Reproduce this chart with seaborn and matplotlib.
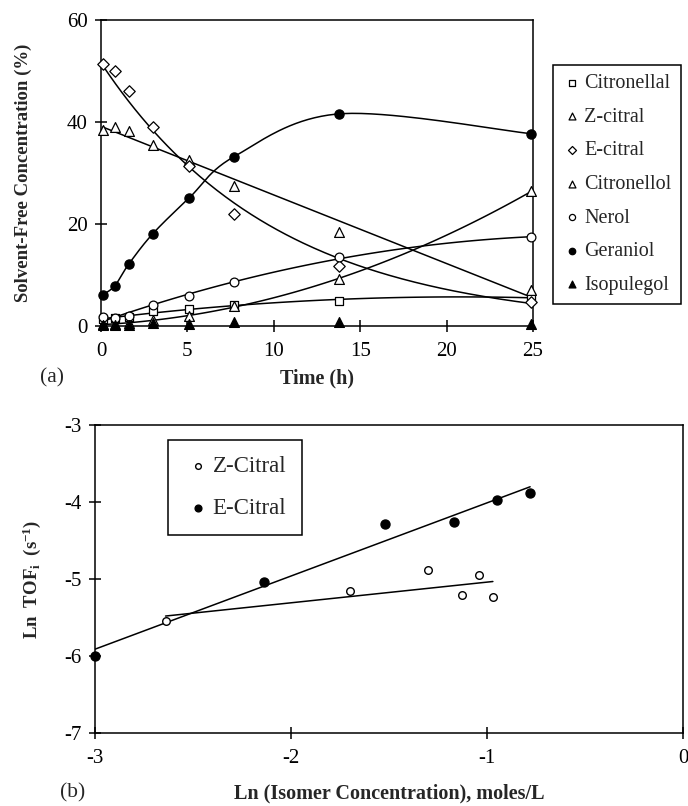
import numpy as np
import pandas as pd
import matplotlib
matplotlib.use("Agg")
import matplotlib.pyplot as plt
import seaborn as sns

# ---------------- data: (a) concentration vs time ----------------
time_h = [0.1, 0.8, 1.6, 3.0, 5.1, 7.7, 13.8, 24.9]
citronellal = [1.4, 1.5, 1.8, 3.0, 3.3, 4.2, 4.9, 5.6]
z_citral = [38.4, 39.0, 38.3, 35.4, 32.5, 27.4, 18.4, 7.1]
e_citral = [51.4, 50.0, 46.1, 39.0, 31.4, 22.0, 11.8, 4.8]
citronellol = [0.3, 0.4, 0.6, 1.2, 1.9, 3.9, 9.3, 26.4]
nerol = [1.8, 1.6, 2.0, 4.1, 5.9, 8.7, 13.6, 17.4]
geraniol = [6.1, 7.9, 12.1, 18.1, 25.1, 33.2, 41.6, 37.7]
isopulegol = [0.1, 0.1, 0.1, 0.6, 0.4, 0.8, 0.7, 0.3]

conc_ticks_x = [0, 5, 10, 15, 20, 25]
conc_ticks_y = [0, 20, 40, 60]

# ---------------- data: (b) ln TOF vs ln concentration ----------------
z_ln_conc = [-2.64, -1.70, -1.30, -1.13, -1.04, -0.97]
z_ln_tof = [-5.55, -5.16, -4.88, -5.21, -4.95, -5.24]
e_ln_conc = [-3.00, -2.14, -1.52, -1.17, -0.95, -0.78]
e_ln_tof = [-6.00, -5.04, -4.29, -4.26, -3.98, -3.88]

tof_ticks_x = [-3, -2, -1, 0]
tof_ticks_y = [-7, -6, -5, -4, -3]

sns.set_style("ticks")
plt.rcParams.update({
    "font.family": ["Liberation Serif", "DejaVu Serif"],
    "axes.unicode_minus": False,
    "mathtext.fontset": "custom",
    "mathtext.rm": "Liberation Serif",
    "mathtext.bf": "Liberation Serif:bold",
    "mathtext.it": "Liberation Serif:italic",
    "axes.edgecolor": "black",
    "axes.linewidth": 1.1,
})

W, H = 688, 806
fig = plt.figure(figsize=(W / 100, H / 100), dpi=100)


def px_axes(left, top, right, bottom):
    return fig.add_axes([left / W, 1 - bottom / H, (right - left) / W, (bottom - top) / H])


def style_axes(ax):
    for side in ["top", "right", "left", "bottom"]:
        ax.spines[side].set_visible(True)
        ax.spines[side].set_linewidth(1.1)
        ax.spines[side].set_color("black")
    ax.tick_params(axis="both", direction="inout", length=9, width=1.1,
                   labelsize=15, colors="black", top=False, right=False)
    ax.tick_params(axis="x", pad=7)
    ax.tick_params(axis="y", pad=5)
    ax.set_xlabel("")
    ax.set_ylabel("")


def smoothed_path(x, y, n=40):
    """Smoothed connecting line through every point (cubic Bezier segments
    with Catmull-Rom style control points)."""
    p = np.column_stack([x, y]).astype(float)
    p_ext = np.vstack([p[0], p, p[-1]])
    u = np.linspace(0, 1, n)[:, None]
    out = []
    for i in range(1, len(p_ext) - 2):
        p0, p1, p2, p3 = p_ext[i - 1], p_ext[i], p_ext[i + 1], p_ext[i + 2]
        c1 = p1 + (p2 - p0) / 6
        c2 = p2 - (p3 - p1) / 6
        seg = ((1 - u) ** 3) * p1 + 3 * ((1 - u) ** 2) * u * c1 \
            + 3 * (1 - u) * u ** 2 * c2 + u ** 3 * p2
        out.append(seg if i == 1 else seg[1:])
    out = np.vstack(out)
    return out[:, 0], out[:, 1]


# ---------------- panel (a) ----------------
ax1 = px_axes(101, 20, 533, 326)

names = ["Citronellal", "Z-citral", "E-citral", "Citronellol", "Nerol", "Geraniol", "Isopulegol"]
conc_df = pd.DataFrame({
    "time": time_h * len(names),
    "conc": citronellal + z_citral + e_citral + citronellol + nerol + geraniol + isopulegol,
    "compound": sum([[n] * len(time_h) for n in names], []),
})

# marker, face colour, size, line type ("exp", "smooth", polynomial order, or None)
conc_styles = {
    "Citronellal": ("s", "white", 34, 2),
    "Z-citral": ("^", "white", 50, 1),
    "E-citral": ("D", "white", 34, "exp"),
    "Citronellol": ("^", "white", 50, 2),
    "Nerol": ("o", "white", 40, 2),
    "Geraniol": ("o", "black", 44, "smooth"),
    "Isopulegol": ("^", "black", 50, None),
}

for name, (mk, fc, size, trend) in conc_styles.items():
    sub = conc_df[conc_df["compound"] == name]
    if trend == "exp":
        # exponential trend line: least squares on log(conc)
        b, ln_a = np.polyfit(sub["time"], np.log(sub["conc"]), 1)
        grid = np.linspace(sub["time"].min(), sub["time"].max(), 200)
        sns.lineplot(x=grid, y=np.exp(ln_a + b * grid), color="black", lw=1.1, ax=ax1)
    elif trend == "smooth":
        sx, sy = smoothed_path(sub["time"].to_numpy(), sub["conc"].to_numpy())
        sns.lineplot(x=sx, y=sy, sort=False, estimator=None, color="black", lw=1.1, ax=ax1)
    elif trend is not None:
        sns.regplot(data=sub, x="time", y="conc", order=trend, ci=None, scatter=False,
                    truncate=True, color="black", line_kws={"lw": 1.1}, ax=ax1)
    sns.scatterplot(data=sub, x="time", y="conc", marker=mk, s=size, color=fc,
                    edgecolor="black", linewidth=0.9, label=name, clip_on=False,
                    zorder=3, ax=ax1, legend=False)

ax1.set_xlim(0, 25)
ax1.set_ylim(0, 60)
ax1.set_xticks(conc_ticks_x)
ax1.set_yticks(conc_ticks_y)
style_axes(ax1)

handles, labels = ax1.get_legend_handles_labels()
leg1 = ax1.legend(handles, labels, loc="upper left",
                  bbox_to_anchor=(553 / W, 1 - 65 / H), bbox_transform=fig.transFigure,
                  fontsize=14.5, frameon=True, fancybox=False, edgecolor="black",
                  framealpha=1, borderpad=0.45, labelspacing=0.72, handlelength=1.0,
                  handletextpad=0.1, markerscale=0.7, borderaxespad=0)
leg1.get_frame().set_linewidth(1.1)

fig.text(23 / W, 1 - 173 / H, "Solvent-Free Concentration (%)", rotation=90,
         ha="center", va="center", fontsize=13.5, fontweight="bold")
fig.text(317 / W, 1 - 378 / H, "Time (h)", ha="center", va="center",
         fontsize=14.5, fontweight="bold")
fig.text(52 / W, 1 - 378 / H, "(a)", ha="center", va="center", fontsize=15.5)

# ---------------- panel (b) ----------------
ax2 = px_axes(95, 425, 683, 733)

tof_df = pd.DataFrame({
    "ln_conc": z_ln_conc + e_ln_conc,
    "ln_tof": z_ln_tof + e_ln_tof,
    "isomer": ["Z-Citral"] * len(z_ln_conc) + ["E-Citral"] * len(e_ln_conc),
})

tof_styles = {
    "Z-Citral": ("white", 30),
    "E-Citral": ("black", 42),
}
for name, (fc, size) in tof_styles.items():
    sub = tof_df[tof_df["isomer"] == name]
    sns.regplot(data=sub, x="ln_conc", y="ln_tof", order=1, ci=None, scatter=False,
                truncate=True, color="black", line_kws={"lw": 1.1}, ax=ax2)
    sns.scatterplot(data=sub, x="ln_conc", y="ln_tof", marker="o", s=size, color=fc,
                    edgecolor="black", linewidth=1.0, label=name, clip_on=False,
                    zorder=3, ax=ax2, legend=False)

ax2.set_xlim(-3, 0)
ax2.set_ylim(-7, -3)
ax2.set_xticks(tof_ticks_x)
ax2.set_yticks(tof_ticks_y)
style_axes(ax2)

handles, labels = ax2.get_legend_handles_labels()
leg2 = ax2.legend(handles, labels, loc="upper left",
                  bbox_to_anchor=(168 / W, 1 - 440 / H), bbox_transform=fig.transFigure,
                  fontsize=16.5, frameon=True, fancybox=False, edgecolor="black",
                  framealpha=1, borderpad=0.7, labelspacing=0.9, handlelength=1.2,
                  handletextpad=0.05, markerscale=0.75, borderaxespad=0)
leg2.get_frame().set_linewidth(1.1)

fig.text(32 / W, 1 - 579 / H, r"$\mathbf{Ln\ \ TOF_i\ \ (s^{-1})}$", rotation=90,
         ha="center", va="center", fontsize=13.5)
fig.text(389 / W, 1 - 793 / H, "Ln (Isomer Concentration), moles/L", ha="center",
         va="center", fontsize=14.5, fontweight="bold")
fig.text(73 / W, 1 - 793 / H, "(b)", ha="center", va="center", fontsize=15.5)

fig.savefig("out.png", dpi=100, facecolor="white")
